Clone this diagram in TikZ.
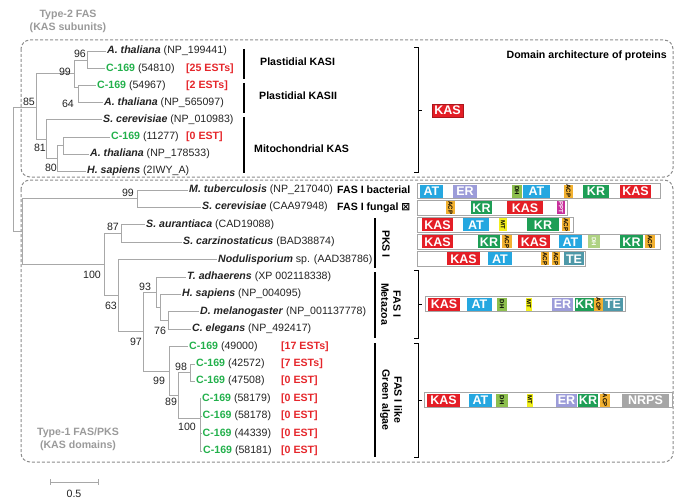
\documentclass[tikz,border=0pt]{standalone}
\usepackage{fontspec}
\setmainfont{Liberation Sans}
\newfontfamily\dejavu{DejaVu Sans}
\definecolor{kasred}{HTML}{E41E26}
\definecolor{atblue}{HTML}{25A7E0}
\definecolor{erpurple}{HTML}{9C9CD9}
\definecolor{krgreen}{HTML}{1E9E56}
\definecolor{dhgreen}{HTML}{8DBF4E}
\definecolor{teteal}{HTML}{4E98A8}
\definecolor{acporange}{HTML}{F2B131}
\definecolor{mtyellow}{HTML}{F1EF1C}
\definecolor{pptmag}{HTML}{C82E9B}
\definecolor{nrpsgray}{HTML}{A6A6A6}
\definecolor{cgreen}{HTML}{22B04B}
\definecolor{estred}{HTML}{E5262B}
\definecolor{treegray}{HTML}{A8A8A8}
\definecolor{boxgray}{HTML}{8C8C8C}
\definecolor{labgray}{HTML}{9A9A9A}
\definecolor{txtdark}{HTML}{222222}
\newcommand\spn[1]{\textbf{\textit{#1}}}
\newcommand\cg{\textcolor{cgreen}{\textbf{C-169}}}
\newcommand\rt[1]{\rotatebox{-90}{#1}}
\newcommand\dm[6]{\node[#1, minimum width={#4-#3}] (#2) at ({(#3+#4)/2},#5) {#6};}
\newcommand\dbar[4]{\node[dombar, minimum width={#3-#2}] (#1) at ({(#2+#3)/2},#4) {};}
\begin{document}
\begin{tikzpicture}[x=1pt,y=-1pt,
  leaf/.style={anchor=west, inner sep=1pt, text=txtdark, font=\fontsize{10.6}{12}\selectfont, text height=7.5pt, text depth=2.5pt},
  est/.style={leaf, text=estred, font=\fontsize{10.6}{12}\selectfont\bfseries},
  boot/.style={inner sep=0pt, text=txtdark, font=\fontsize{10.6}{12}\selectfont},
  grp/.style={anchor=west, inner sep=1pt, text=black, font=\fontsize{10.6}{12}\selectfont\bfseries},
  rgrp/.style={inner sep=1pt, text=black, align=center, rotate=-90, font=\fontsize{10.6}{12}\selectfont\bfseries},
  typelab/.style={inner sep=0pt, text=labgray, align=center, font=\fontsize{10.6}{13}\selectfont\bfseries},
  tree/.style={draw=treegray, line width=0.8pt},
  dbox/.style={draw=boxgray, line width=1pt, dash pattern=on 3pt off 2pt, rounded corners=9pt},
  bar/.style={line width=2.6pt, draw=black},
  brk/.style={line width=0.9pt, draw=black},
  dombar/.style={draw=black!35, fill=white, line width=1pt, minimum height=15pt, inner sep=0pt},
  dom/.style={inner sep=0pt, minimum height=13pt, text=white, font=\fontsize{12.5}{12.5}\selectfont\bfseries},
  dkas/.style={dom, fill=kasred},
  dat/.style={dom, fill=atblue},
  der/.style={dom, fill=erpurple},
  dkr/.style={dom, fill=krgreen},
  dte/.style={dom, fill=teteal},
  dnrps/.style={dom, fill=nrpsgray},
  dsmall/.style={dom, text=black, font=\fontsize{6}{6}\selectfont\bfseries},
  ddh/.style={dsmall, fill=dhgreen},
  dacp/.style={dsmall, fill=acporange},
  dmt/.style={dsmall, fill=mtyellow},
  dppt/.style={dsmall, fill=pptmag, text=white}
]
\useasboundingbox (0,0) rectangle (685,500);

% dashed boxes
\draw[dbox] (21,40) rectangle (673,177);
\draw[dbox] (21,180) rectangle (673,462);

\node[typelab] (ty2) at (68,21) {Type-2 FAS\\(KAS subunits)};
\node[typelab] (ty1) at (78,439) {Type-1 FAS/PKS\\(KAS domains)};

% ---- leaves, top clade
\node[leaf] (t1) at (106,51.5) {\spn{A. thaliana} (NP\_199441)};
\node[leaf] (t2) at (105,68.6) {\cg{} (54810)};
\node[est] (e2) at (185,68.6) {[25 ESTs]};
\node[leaf] (t3) at (96,85.7) {\cg{} (54967)};
\node[est] (e3) at (185,85.7) {[2 ESTs]};
\node[leaf] (t4) at (103,102.8) {\spn{A. thaliana} (NP\_565097)};
\node[leaf] (t5) at (102,119.9) {\spn{S. cerevisiae} (NP\_010983)};
\node[leaf] (t6) at (110,137) {\cg{} (11277)};
\node[est] (e6) at (185,137) {[0 EST]};
\node[leaf] (t7) at (89,154.1) {\spn{A. thaliana} (NP\_178533)};
\node[leaf] (t8) at (86,171.2) {\spn{H. sapiens} (2IWY\_A)};

% ---- leaves, lower clade
\node[leaf] (l1) at (188,190) {\spn{M. tuberculosis} (NP\_217040)};
\node[leaf] (l2) at (201,207.4) {\spn{S. cerevisiae} (CAA97948)};
\node[leaf] (l3) at (145,224.8) {\spn{S. aurantiaca} (CAD19088)};
\node[leaf] (l4) at (182,242.2) {\spn{S. carzinostaticus} (BAD38874)};
\node[leaf] (l5) at (217,259.6) {\spn{Nodulisporium} sp. (AAD38786)};
\node[leaf] (l6) at (186,277) {\spn{T. adhaerens} (XP 002118338)};
\node[leaf] (l7) at (181,294.4) {\spn{H. sapiens} (NP\_004095)};
\node[leaf] (l8) at (199,311.8) {\spn{D. melanogaster} (NP\_001137778)};
\node[leaf] (l9) at (191,329.2) {\spn{C. elegans} (NP\_492417)};
\node[leaf] (l10) at (188,346.6) {\cg{} (49000)};
\node[est] (e10) at (280,346.6) {[17 ESTs]};
\node[leaf] (l11) at (195,364) {\cg{} (42572)};
\node[est] (e11) at (280,364) {[7 ESTs]};
\node[leaf] (l12) at (195,381.4) {\cg{} (47508)};
\node[est] (e12) at (280,381.4) {[0 EST]};
\node[leaf] (l13) at (201,398.8) {\cg{} (58179)};
\node[est] (e13) at (280,398.8) {[0 EST]};
\node[leaf] (l14) at (201.5,416.2) {\cg{} (58178)};
\node[est] (e14) at (280,416.2) {[0 EST]};
\node[leaf] (l15) at (201.5,433.6) {\cg{} (44339)};
\node[est] (e15) at (280,433.6) {[0 EST]};
\node[leaf] (l16) at (202,451) {\cg{} (58181)};
\node[est] (e16) at (280,451) {[0 EST]};

% ---- internal nodes
\coordinate (nA) at (87.5,60.05);
\coordinate (nB) at (78,87.5);
\coordinate (nC) at (74,73.8);
\coordinate (nX) at (63,145.55);
\coordinate (n80) at (57,158.4);
\coordinate (n81) at (46,139.1);
\coordinate (nD) at (36,107.5);
\coordinate (mL) at (22,231.6);
\coordinate (root) at (13,169.6);
\coordinate (m99) at (137,198.7);
\coordinate (m87) at (121,233.5);
\coordinate (m76) at (168,320.5);
\coordinate (mY) at (160,307.45);
\coordinate (m93) at (156,292.2);
\coordinate (m4) at (200,418);
\coordinate (m98) at (190,372.7);
\coordinate (m89) at (178,395.35);
\coordinate (m99b) at (169,371);
\coordinate (m97) at (143,331.6);
\coordinate (m63) at (118,295.6);
\coordinate (m100) at (104,264.5);

% ---- branches
\draw[tree] (nA) |- (t1.west);
\draw[tree] (nA) |- (t2.west);
\draw[tree] (nB) |- (t3.west);
\draw[tree] (nB) |- (t4.west);
\draw[tree] (nC) |- (nA);
\draw[tree] (nC) |- (nB);
\draw[tree] (nX) |- (t6.west);
\draw[tree] (nX) |- (t7.west);
\draw[tree] (n80) |- (nX);
\draw[tree] (n80) |- (t8.west);
\draw[tree] (n81) |- (t5.west);
\draw[tree] (n81) |- (n80);
\draw[tree] (nD) |- (nC);
\draw[tree] (nD) |- (n81);
\draw[tree] (root) |- (nD);
\draw[tree] (root) |- (mL);
\draw[tree] (mL) |- (m99);
\draw[tree] (mL) |- (m100);
\draw[tree] (m99) |- (l1.west);
\draw[tree] (m99) |- (l2.west);
\draw[tree] (m87) |- (l3.west);
\draw[tree] (m87) |- (l4.west);
\draw[tree] (m100) |- (m87);
\draw[tree] (m100) |- (m63);
\draw[tree] (m63) |- (l5.west);
\draw[tree] (m63) |- (m97);
\draw[tree] (m97) |- (m93);
\draw[tree] (m97) |- (m99b);
\draw[tree] (m93) |- (l6.west);
\draw[tree] (m93) |- (mY);
\draw[tree] (mY) |- (l7.west);
\draw[tree] (mY) |- (m76);
\draw[tree] (m76) |- (l8.west);
\draw[tree] (m76) |- (l9.west);
\draw[tree] (m99b) |- (l10.west);
\draw[tree] (m99b) |- (m89);
\draw[tree] (m89) |- (m98);
\draw[tree] (m89) |- (m4);
\draw[tree] (m98) |- (l11.west);
\draw[tree] (m98) |- (l12.west);
\draw[tree] (m4) |- (l13.west);
\draw[tree] (m4) |- (l14.west);
\draw[tree] (m4) |- (l15.west);
\draw[tree] (m4) |- (l16.west);

% ---- bootstrap values
\node[boot] (b1) at (80,54) {96};
\node[boot] (b2) at (65,72) {99};
\node[boot] (b3) at (68,104) {64};
\node[boot] (b4) at (29,102) {85};
\node[boot] (b5) at (40,148) {81};
\node[boot] (b6) at (51,168) {80};
\node[boot] (b7) at (128,193) {99};
\node[boot] (b8) at (113,227) {87};
\node[boot] (b9) at (92,275) {100};
\node[boot] (b10) at (111,306) {63};
\node[boot] (b11) at (145,287) {93};
\node[boot] (b12) at (160,331) {76};
\node[boot] (b13) at (136,342) {97};
\node[boot] (b14) at (181,367) {98};
\node[boot] (b15) at (159,381) {99};
\node[boot] (b16) at (171,402) {89};
\node[boot] (b17) at (187,427) {100};

% ---- scale bar
\coordinate (s1) at (50,482);
\coordinate (s2) at (98,482);
\draw[tree] (s1) -- (s2);
\draw[tree] ([yshift=3pt]s1) -- ([yshift=-3pt]s1);
\draw[tree] ([yshift=3pt]s2) -- ([yshift=-3pt]s2);
\node[boot] (sb) at (74,494) {0.5};

% ---- group bars and labels
\draw[bar] (244,49) -- (244,79);
\draw[bar] (244,83) -- (244,113);
\draw[bar] (244,117) -- (244,173);
\node[grp] (g1) at (259,62) {Plastidial KASI};
\node[grp] (g2) at (258,96) {Plastidial KASII};
\node[grp] (g3) at (253,149) {Mitochondrial KAS};
\node[grp] (g4) at (336,190) {FAS I bacterial};
\node[grp] (g5) at (336,207.4) {FAS I fungal {\dejavu ⊠}};
\draw[bar] (375,218) -- (375,268);
\draw[bar] (375,272) -- (375,338);
\draw[bar] (375,343) -- (375,457);
\node[rgrp] (g6) at (386,244) {PKS I};
\node[rgrp] (g7) at (391,304) {FAS I\\Metazoa};
\node[rgrp] (g8) at (391,400) {FAS I like\\Green algae};

% ---- thin brackets
\draw[brk] (414,47) -- (418,47) -- (418,172) -- (414,172);
\draw[brk] (418,110) -- (422,110);
\draw[brk] (414,270) -- (418,270) -- (418,338) -- (414,338);
\draw[brk] (418,304) -- (422,304);
\draw[brk] (414,343) -- (418,343) -- (418,457) -- (414,457);
\draw[brk] (418,400) -- (422,400);

\node[anchor=east, inner sep=0pt, font=\fontsize{10.6}{12}\selectfont\bfseries] (head) at (667,56) {Domain architecture of proteins};

% ---- domain architectures
\dm{dkas, draw=kasred!75!black, line width=0.6pt, minimum height=13pt}{k0}{432}{463}{110.5}{KAS}

\dbar{r1}{417}{660}{191}
\dm{dat}{r1a}{420}{443}{191}{AT}
\dm{der}{r1b}{453}{477}{191}{ER}
\dm{ddh}{r1c}{512}{522}{191}{\rt{DH}}
\dm{dat}{r1d}{523}{550}{191}{AT}
\dm{dacp}{r1e}{564}{573}{191}{\rt{ACP}}
\dm{dkr}{r1f}{583}{609}{191}{KR}
\dm{dkas}{r1g}{620}{651}{191}{KAS}

\dbar{r2}{417}{567}{207.8}
\dm{dacp}{r2a}{446}{455}{207.8}{\rt{ACP}}
\dm{dkr}{r2b}{471}{492}{207.8}{KR}
\dm{dkas}{r2c}{507}{543}{207.8}{KAS}
\dm{dppt}{r2d}{557}{565}{207.8}{\rt{PPT}}

\dbar{r3}{417}{573}{224.8}
\dm{dkas}{r3a}{422}{453}{224.8}{KAS}
\dm{dat}{r3b}{463}{489}{224.8}{AT}
\dm{dmt}{r3c}{499}{507}{224.8}{\rt{MT}}
\dm{dkr}{r3d}{527}{559}{224.8}{KR}
\dm{dacp}{r3e}{562}{570}{224.8}{\rt{ACP}}

\dbar{r4}{417}{660}{241.8}
\dm{dkas}{r4a}{422}{453}{241.8}{KAS}
\dm{dkr}{r4b}{478}{500}{241.8}{KR}
\dm{dacp}{r4c}{502}{512}{241.8}{\rt{ACP}}
\dm{dkas}{r4d}{518}{550}{241.8}{KAS}
\dm{dat}{r4e}{559}{582}{241.8}{AT}
\dm{ddh, fill=dhgreen!70, text=white}{r4f}{588}{600}{241.8}{\rt{DH}}
\dm{dkr}{r4g}{620}{643}{241.8}{KR}
\dm{dacp}{r4h}{645}{655}{241.8}{\rt{ACP}}

\dbar{r5}{417}{585}{258.8}
\dm{dkas}{r5a}{447}{480}{258.8}{KAS}
\dm{dat}{r5b}{488}{512}{258.8}{AT}
\dm{dacp}{r5c}{541}{549}{258.8}{\rt{ACP}}
\dm{dacp}{r5d}{552}{560}{258.8}{\rt{ACP}}
\dm{dte}{r5e}{564}{584}{258.8}{TE}

\dbar{r6}{425}{625}{304}
\dm{dkas}{r6a}{428}{460}{304}{KAS}
\dm{dat}{r6b}{467}{492}{304}{AT}
\dm{ddh}{r6c}{497}{507}{304}{\rt{DH}}
\dm{dmt}{r6d}{526}{532}{304}{\rt{MT}}
\dm{der}{r6e}{552}{573}{304}{ER}
\dm{dkr}{r6f}{575}{594}{304}{KR}
\dm{dacp}{r6g}{594}{603}{304}{\rt{ACP}}
\dm{dte}{r6h}{603}{623}{304}{TE}

\dbar{r7}{424}{672}{400}
\dm{dkas}{r7a}{427}{460}{400}{KAS}
\dm{dat}{r7b}{469}{492}{400}{AT}
\dm{ddh}{r7c}{496}{508}{400}{\rt{DH}}
\dm{dmt}{r7d}{527}{533}{400}{\rt{MT}}
\dm{der}{r7e}{556}{577}{400}{ER}
\dm{dkr}{r7f}{578}{598}{400}{KR}
\dm{dacp}{r7g}{600}{610}{400}{\rt{ACP}}
\dm{dnrps}{r7h}{622}{669}{400}{NRPS}
\end{tikzpicture}
\end{document}
